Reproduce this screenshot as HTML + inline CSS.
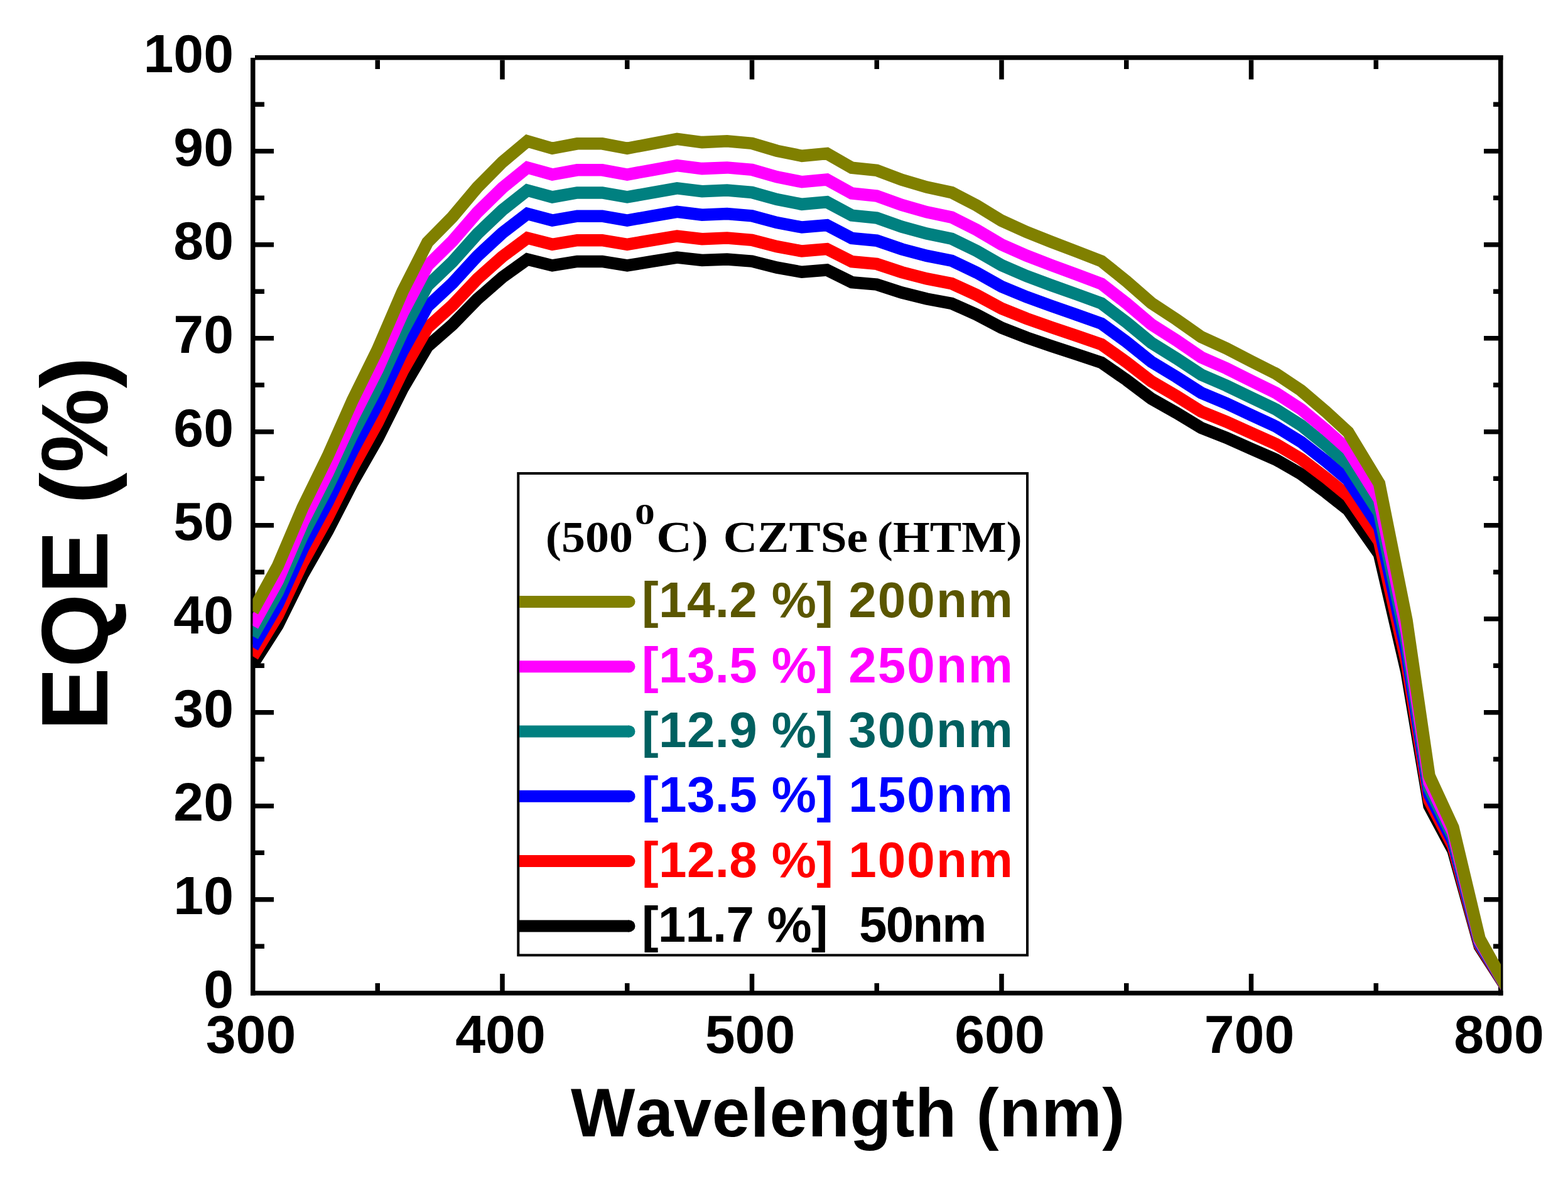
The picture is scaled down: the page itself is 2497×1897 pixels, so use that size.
<!DOCTYPE html>
<html><head><meta charset="utf-8"><title>EQE vs Wavelength</title>
<style>
html,body{margin:0;padding:0;background:#fff;}
body{width:2497px;height:1897px;overflow:hidden;}
svg{display:block;}
.sans{font-family:"Liberation Sans",Arial,sans-serif;font-weight:bold;font-kerning:none;}
.serif{font-family:"Liberation Serif","Times New Roman",serif;font-weight:bold;font-kerning:none;}
</style></head><body>
<svg width="2497" height="1897" viewBox="0 0 2497 1897">
<rect x="0" y="0" width="2497" height="1897" fill="#fff"/>
<defs><clipPath id="plot"><rect x="402.5" y="88" width="1987.5" height="1490"/></clipPath></defs>

<g fill="#000">
<rect x="399" y="92" width="7.5" height="1493.5"/>
<rect x="406" y="88" width="1987.5" height="7.5"/>
<rect x="2386" y="88" width="7.5" height="1497.5"/>
<rect x="399" y="1578" width="1994.5" height="7.5"/>
<rect x="597.50" y="1566" width="7.5" height="12"/>
<rect x="597.50" y="95.5" width="7.5" height="14.5"/>
<rect x="796.25" y="1551" width="7.5" height="27"/>
<rect x="796.25" y="95.5" width="7.5" height="31"/>
<rect x="995.00" y="1566" width="7.5" height="12"/>
<rect x="995.00" y="95.5" width="7.5" height="14.5"/>
<rect x="1193.75" y="1551" width="7.5" height="27"/>
<rect x="1193.75" y="95.5" width="7.5" height="31"/>
<rect x="1392.50" y="1566" width="7.5" height="12"/>
<rect x="1392.50" y="95.5" width="7.5" height="14.5"/>
<rect x="1591.25" y="1551" width="7.5" height="27"/>
<rect x="1591.25" y="95.5" width="7.5" height="31"/>
<rect x="1790.00" y="1566" width="7.5" height="12"/>
<rect x="1790.00" y="95.5" width="7.5" height="14.5"/>
<rect x="1988.75" y="1551" width="7.5" height="27"/>
<rect x="1988.75" y="95.5" width="7.5" height="31"/>
<rect x="2187.50" y="1566" width="7.5" height="12"/>
<rect x="2187.50" y="95.5" width="7.5" height="14.5"/>
<rect x="406" y="1503.50" width="15" height="7.5"/>
<rect x="2378" y="1503.50" width="8" height="7.5"/>
<rect x="406" y="1429.00" width="30" height="7.5"/>
<rect x="2363" y="1429.00" width="23" height="7.5"/>
<rect x="406" y="1354.50" width="15" height="7.5"/>
<rect x="2378" y="1354.50" width="8" height="7.5"/>
<rect x="406" y="1280.00" width="30" height="7.5"/>
<rect x="2363" y="1280.00" width="23" height="7.5"/>
<rect x="406" y="1205.50" width="15" height="7.5"/>
<rect x="2378" y="1205.50" width="8" height="7.5"/>
<rect x="406" y="1131.00" width="30" height="7.5"/>
<rect x="2363" y="1131.00" width="23" height="7.5"/>
<rect x="406" y="1056.50" width="15" height="7.5"/>
<rect x="2378" y="1056.50" width="8" height="7.5"/>
<rect x="406" y="982.00" width="30" height="7.5"/>
<rect x="2363" y="982.00" width="23" height="7.5"/>
<rect x="406" y="907.50" width="15" height="7.5"/>
<rect x="2378" y="907.50" width="8" height="7.5"/>
<rect x="406" y="833.00" width="30" height="7.5"/>
<rect x="2363" y="833.00" width="23" height="7.5"/>
<rect x="406" y="758.50" width="15" height="7.5"/>
<rect x="2378" y="758.50" width="8" height="7.5"/>
<rect x="406" y="684.00" width="30" height="7.5"/>
<rect x="2363" y="684.00" width="23" height="7.5"/>
<rect x="406" y="609.50" width="15" height="7.5"/>
<rect x="2378" y="609.50" width="8" height="7.5"/>
<rect x="406" y="535.00" width="30" height="7.5"/>
<rect x="2363" y="535.00" width="23" height="7.5"/>
<rect x="406" y="460.50" width="15" height="7.5"/>
<rect x="2378" y="460.50" width="8" height="7.5"/>
<rect x="406" y="386.00" width="30" height="7.5"/>
<rect x="2363" y="386.00" width="23" height="7.5"/>
<rect x="406" y="311.50" width="15" height="7.5"/>
<rect x="2378" y="311.50" width="8" height="7.5"/>
<rect x="406" y="237.00" width="30" height="7.5"/>
<rect x="2363" y="237.00" width="23" height="7.5"/>
<rect x="406" y="162.50" width="15" height="7.5"/>
<rect x="2378" y="162.50" width="8" height="7.5"/>
</g>
<g clip-path="url(#plot)" fill="none" stroke-width="19.5" stroke-linejoin="miter" stroke-miterlimit="3">
<polyline stroke="#000000" points="402.5,1058.1 442.2,996.0 482.0,915.5 521.8,845.5 561.5,768.3 601.2,698.9 641.0,619.3 680.8,551.8 720.5,517.1 760.2,476.4 800.0,441.7 839.8,413.0 879.5,422.9 919.2,416.4 959.0,416.4 998.8,422.9 1038.5,416.4 1078.2,410.0 1118.0,414.5 1157.8,413.0 1197.5,416.1 1237.2,426.2 1277.0,433.3 1316.8,430.0 1356.5,449.6 1396.2,453.1 1436.0,466.0 1475.8,476.0 1515.5,483.4 1555.2,501.1 1595.0,522.1 1634.8,537.7 1674.5,551.3 1714.2,564.3 1754.0,577.6 1793.8,605.1 1833.5,635.0 1873.2,657.5 1913.0,681.6 1952.8,697.2 1992.5,714.8 2032.2,732.2 2072.0,755.1 2111.8,784.5 2146.8,812.2 2196.4,882.7 2240.0,1070.3 2276.0,1283.5 2314.0,1354.6 2356.2,1507.3 2390.0,1559.7 2402.0,1578.3"/>
<polyline stroke="#FF0000" points="402.5,1045.4 442.2,980.4 482.0,896.2 521.8,824.1 561.5,744.8 601.2,673.3 641.0,591.4 680.8,522.0 720.5,486.2 760.2,444.3 800.0,408.7 839.8,379.1 879.5,389.3 919.2,382.7 959.0,382.7 998.8,389.3 1038.5,382.7 1078.2,376.0 1118.0,380.7 1157.8,379.1 1197.5,382.3 1237.2,392.7 1277.0,400.0 1316.8,396.6 1356.5,416.7 1396.2,420.4 1436.0,433.6 1475.8,443.9 1515.5,451.6 1555.2,469.8 1595.0,491.3 1634.8,507.4 1674.5,521.4 1714.2,534.8 1754.0,548.5 1793.8,576.8 1833.5,607.5 1873.2,630.7 1913.0,655.5 1952.8,671.6 1992.5,689.7 2032.2,707.5 2072.0,731.2 2111.8,761.3 2146.8,789.9 2196.4,862.5 2240.0,1055.5 2276.0,1274.9 2314.0,1348.0 2356.2,1505.1 2390.0,1559.0 2402.0,1578.2"/>
<polyline stroke="#0000FF" points="402.5,1031.1 442.2,962.8 482.0,874.2 521.8,799.8 561.5,717.9 601.2,644.2 641.0,559.7 680.8,488.0 720.5,451.1 760.2,407.8 800.0,371.0 839.8,340.5 879.5,351.0 919.2,344.2 959.0,344.2 998.8,351.0 1038.5,344.2 1078.2,337.4 1118.0,342.2 1157.8,340.5 1197.5,343.8 1237.2,354.6 1277.0,362.0 1316.8,358.6 1356.5,379.4 1396.2,383.2 1436.0,396.8 1475.8,407.4 1515.5,415.3 1555.2,434.1 1595.0,456.4 1634.8,473.0 1674.5,487.4 1714.2,501.2 1754.0,515.4 1793.8,544.5 1833.5,576.3 1873.2,600.2 1913.0,625.8 1952.8,642.4 1992.5,661.1 2032.2,679.5 2072.0,703.9 2111.8,735.0 2146.8,764.5 2196.4,839.4 2240.0,1038.6 2276.0,1265.0 2314.0,1340.5 2356.2,1502.7 2390.0,1558.3 2402.0,1578.0"/>
<polyline stroke="#008080" points="402.5,1013.2 442.2,943.3 482.0,852.9 521.8,776.3 561.5,691.9 601.2,615.9 641.0,528.9 680.8,455.0 720.5,417.0 760.2,372.5 800.0,334.6 839.8,303.1 879.5,313.9 919.2,306.9 959.0,306.9 998.8,313.9 1038.5,306.9 1078.2,299.9 1118.0,304.8 1157.8,303.1 1197.5,306.5 1237.2,317.6 1277.0,325.3 1316.8,321.8 1356.5,343.1 1396.2,347.1 1436.0,361.1 1475.8,372.1 1515.5,380.2 1555.2,399.6 1595.0,422.5 1634.8,439.6 1674.5,454.5 1714.2,468.6 1754.0,483.2 1793.8,513.3 1833.5,546.0 1873.2,570.6 1913.0,597.0 1952.8,614.1 1992.5,633.3 2032.2,652.3 2072.0,677.4 2111.8,709.5 2146.8,739.9 2196.4,817.0 2240.0,1022.3 2276.0,1255.5 2314.0,1333.2 2356.2,1500.3 2390.0,1557.6 2402.0,1577.9"/>
<polyline stroke="#FF00FF" points="402.5,996.9 442.2,925.2 482.0,832.3 521.8,753.4 561.5,666.7 601.2,588.6 641.0,499.0 680.8,423.1 720.5,384.0 760.2,338.2 800.0,299.2 839.8,266.9 879.5,278.0 919.2,270.8 959.0,270.8 998.8,278.0 1038.5,270.8 1078.2,263.6 1118.0,268.6 1157.8,266.9 1197.5,270.3 1237.2,281.8 1277.0,289.7 1316.8,286.1 1356.5,308.0 1396.2,312.1 1436.0,326.5 1475.8,337.8 1515.5,346.1 1555.2,366.1 1595.0,389.6 1634.8,407.2 1674.5,422.5 1714.2,437.1 1754.0,452.1 1793.8,483.0 1833.5,516.7 1873.2,541.9 1913.0,569.1 1952.8,586.7 1992.5,606.5 2032.2,626.0 2072.0,651.8 2111.8,684.8 2146.8,716.0 2196.4,795.4 2240.0,1006.4 2276.0,1246.2 2314.0,1326.2 2356.2,1498.0 2390.0,1556.9 2402.0,1577.8"/>
<polyline stroke="#808000" points="402.5,973.8 442.2,901.7 482.0,808.3 521.8,726.9 561.5,637.4 601.2,556.8 641.0,464.4 680.8,386.0 720.5,345.6 760.2,298.4 800.0,258.2 839.8,224.8 879.5,236.3 919.2,228.8 959.0,228.8 998.8,236.3 1038.5,228.8 1078.2,221.4 1118.0,226.6 1157.8,224.8 1197.5,228.4 1237.2,240.2 1277.0,248.3 1316.8,244.6 1356.5,267.3 1396.2,271.4 1436.0,286.3 1475.8,298.0 1515.5,306.6 1555.2,327.2 1595.0,351.5 1634.8,369.6 1674.5,385.4 1714.2,400.5 1754.0,416.0 1793.8,447.9 1833.5,482.6 1873.2,508.7 1913.0,536.7 1952.8,554.8 1992.5,575.3 2032.2,595.4 2072.0,622.0 2111.8,656.1 2146.8,688.3 2196.4,770.2 2240.0,988.0 2276.0,1235.5 2314.0,1318.0 2356.2,1495.3 2390.0,1556.1 2402.0,1577.7"/>
</g>
<g class="sans" font-size="86" fill="#000">
<text x="372" y="1605.3" text-anchor="end">0</text>
<text x="372" y="1456.3" text-anchor="end">10</text>
<text x="372" y="1307.3" text-anchor="end">20</text>
<text x="372" y="1158.3" text-anchor="end">30</text>
<text x="372" y="1009.4" text-anchor="end">40</text>
<text x="372" y="860.4" text-anchor="end">50</text>
<text x="372" y="711.4" text-anchor="end">60</text>
<text x="372" y="562.4" text-anchor="end">70</text>
<text x="372" y="413.4" text-anchor="end">80</text>
<text x="372" y="264.4" text-anchor="end">90</text>
<text x="372" y="115.3" text-anchor="end">100</text>
<text x="399.5" y="1677" text-anchor="middle">300</text>
<text x="797.0" y="1677" text-anchor="middle">400</text>
<text x="1194.5" y="1677" text-anchor="middle">500</text>
<text x="1592.0" y="1677" text-anchor="middle">600</text>
<text x="1989.5" y="1677" text-anchor="middle">700</text>
<text x="2387.0" y="1677" text-anchor="middle">800</text>
</g>
<text class="sans" font-size="108.5" x="908.89" y="1809.60" fill="#000" style="letter-spacing:0.605px" >Wavelength (nm)</text>
<text class="sans" font-size="151" transform="translate(171,866) rotate(-90)" text-anchor="middle">EQE (%)</text>
<rect x="825.3" y="754" width="810.7" height="767.4" fill="none" stroke="#000" stroke-width="4"/>
<text class="serif" font-size="69" transform="translate(872.00,878.50) scale(1.1008,1)" x="-3.03" y="0" fill="#000">(500</text>
<text class="serif" font-size="47" transform="translate(1013.50,835.00) scale(1.3554,1)" x="-1.79" y="0" fill="#000">0</text>
<text class="serif" font-size="69" transform="translate(1049.00,878.50) scale(1.1369,1)" x="-3.37" y="0" fill="#000">C)</text>
<text class="serif" font-size="69" transform="translate(1155.50,878.50) scale(1.0913,1)" x="-3.37" y="0" fill="#000">CZTSe</text>
<text class="serif" font-size="69" transform="translate(1400.00,878.50) scale(1.0967,1)" x="-3.03" y="0" fill="#000">(HTM)</text>
<line x1="827" y1="958.4" x2="1002" y2="958.4" stroke="#808000" stroke-width="19"/>
<circle cx="1002" cy="958.4" r="9.5" fill="#808000"/>
<text class="sans" font-size="80" x="1022.01" y="983.4" fill="#5a5600" style="letter-spacing:0.377px">[14.2 %]</text>
<text class="sans" font-size="80" x="1351.23" y="983.4" fill="#5a5600" style="letter-spacing:2.064px">200nm</text>
<line x1="827" y1="1061.7" x2="1002" y2="1061.7" stroke="#FF00FF" stroke-width="19"/>
<circle cx="1002" cy="1061.7" r="9.5" fill="#FF00FF"/>
<text class="sans" font-size="80" x="1022.01" y="1086.7" fill="#FF00FF" style="letter-spacing:0.377px">[13.5 %]</text>
<text class="sans" font-size="80" x="1351.23" y="1086.7" fill="#FF00FF" style="letter-spacing:2.064px">250nm</text>
<line x1="827" y1="1165.0" x2="1002" y2="1165.0" stroke="#008080" stroke-width="19"/>
<circle cx="1002" cy="1165.0" r="9.5" fill="#008080"/>
<text class="sans" font-size="80" x="1022.01" y="1190.0" fill="#006060" style="letter-spacing:0.377px">[12.9 %]</text>
<text class="sans" font-size="80" x="1351.23" y="1190.0" fill="#006060" style="letter-spacing:2.064px">300nm</text>
<line x1="827" y1="1268.3" x2="1002" y2="1268.3" stroke="#0000FF" stroke-width="19"/>
<circle cx="1002" cy="1268.3" r="9.5" fill="#0000FF"/>
<text class="sans" font-size="80" x="1022.01" y="1293.3" fill="#0000FF" style="letter-spacing:0.377px">[13.5 %]</text>
<text class="sans" font-size="80" x="1351.23" y="1293.3" fill="#0000FF" style="letter-spacing:2.064px">150nm</text>
<line x1="827" y1="1371.6" x2="1002" y2="1371.6" stroke="#FF0000" stroke-width="19"/>
<circle cx="1002" cy="1371.6" r="9.5" fill="#FF0000"/>
<text class="sans" font-size="80" x="1022.01" y="1396.6" fill="#FF0000" style="letter-spacing:0.377px">[12.8 %]</text>
<text class="sans" font-size="80" x="1351.23" y="1396.6" fill="#FF0000" style="letter-spacing:2.064px">100nm</text>
<line x1="827" y1="1474.9" x2="1002" y2="1474.9" stroke="#000000" stroke-width="19"/>
<circle cx="1002" cy="1474.9" r="9.5" fill="#000000"/>
<text class="sans" font-size="80" x="1022.01" y="1500.20" fill="#000000" style="letter-spacing:-0.837px" >[11.7 %]</text>
<text class="sans" font-size="80" x="1368.04" y="1500.20" fill="#000000" style="letter-spacing:-1.854px" >50nm</text>
</svg>
</body></html>
